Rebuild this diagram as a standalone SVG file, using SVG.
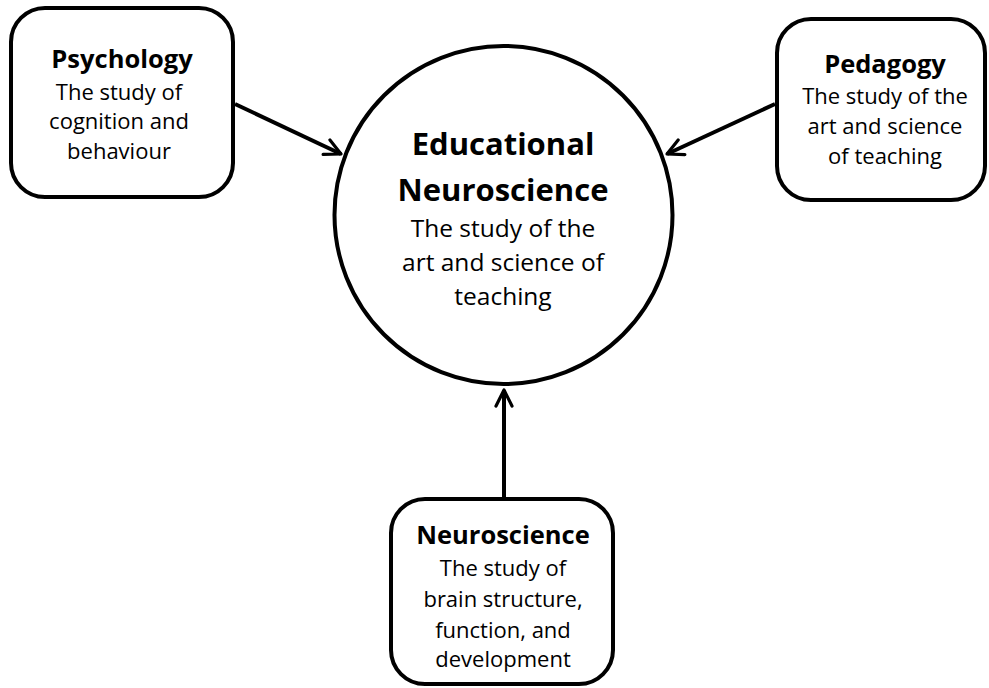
<svg xmlns="http://www.w3.org/2000/svg" width="989" height="688" viewBox="0 0 989 688">
  <style>
    .box { fill: #ffffff; stroke: #000000; stroke-width: 4; }
    .title { font-family: "Open Sans", "Noto Sans", sans-serif; font-weight: bold; text-anchor: middle; fill: #000; }
    .body { font-family: "Open Sans", "Noto Sans", sans-serif; text-anchor: middle; fill: #000; }
    .small .title { font-size: 25.5px; }
    .small .body { font-size: 22px; }
    .big .title { font-size: 31px; }
    .big .body { font-size: 24.5px; }
    .conn { stroke: #000; stroke-width: 4; fill: none; marker-end: url(#chev); }
  </style>
  <defs>
    <marker id="chev" viewBox="0 0 10 10" refX="9" refY="5" markerWidth="5" markerHeight="5" orient="auto" markerUnits="strokeWidth">
      <path d="M1,1 L9,5 L1,9" fill="none" stroke="#000" stroke-width="1.6" stroke-linecap="round" stroke-linejoin="round"/>
    </marker>
  </defs>

  <g id="connectors">
    <line class="conn" x1="235" y1="104" x2="341" y2="154"/>
    <line class="conn" x1="775" y1="104" x2="667" y2="154"/>
    <line class="conn" x1="504" y1="497" x2="504" y2="390"/>
  </g>

  <g id="educational-neuroscience" class="big">
    <circle class="box" cx="503.5" cy="215" r="169"/>
    <text class="title" x="503" y="155">Educational</text>
    <text class="title" x="503" y="201">Neuroscience</text>
    <text class="body" x="503" y="237">The study of the</text>
    <text class="body" x="503" y="271">art and science of</text>
    <text class="body" x="503" y="305">teaching</text>
  </g>

  <g id="psychology" class="small">
    <rect class="box" x="11" y="8" width="222" height="189" rx="34"/>
    <text class="title" x="122" y="68">Psychology</text>
    <text class="body" x="119" y="100">The study of</text>
    <text class="body" x="119" y="129">cognition and</text>
    <text class="body" x="119" y="159">behaviour</text>
  </g>

  <g id="pedagogy" class="small">
    <rect class="box" x="777" y="19" width="208" height="181" rx="34"/>
    <text class="title" x="885" y="73">Pedagogy</text>
    <text class="body" x="885" y="104">The study of the</text>
    <text class="body" x="885" y="134">art and science</text>
    <text class="body" x="885" y="164">of teaching</text>
  </g>

  <g id="neuroscience" class="small">
    <rect class="box" x="391" y="499" width="222" height="185" rx="34"/>
    <text class="title" x="503" y="544">Neuroscience</text>
    <text class="body" x="503" y="576">The study of</text>
    <text class="body" x="503" y="607">brain structure,</text>
    <text class="body" x="503" y="638">function, and</text>
    <text class="body" x="503" y="667">development</text>
  </g>
</svg>
